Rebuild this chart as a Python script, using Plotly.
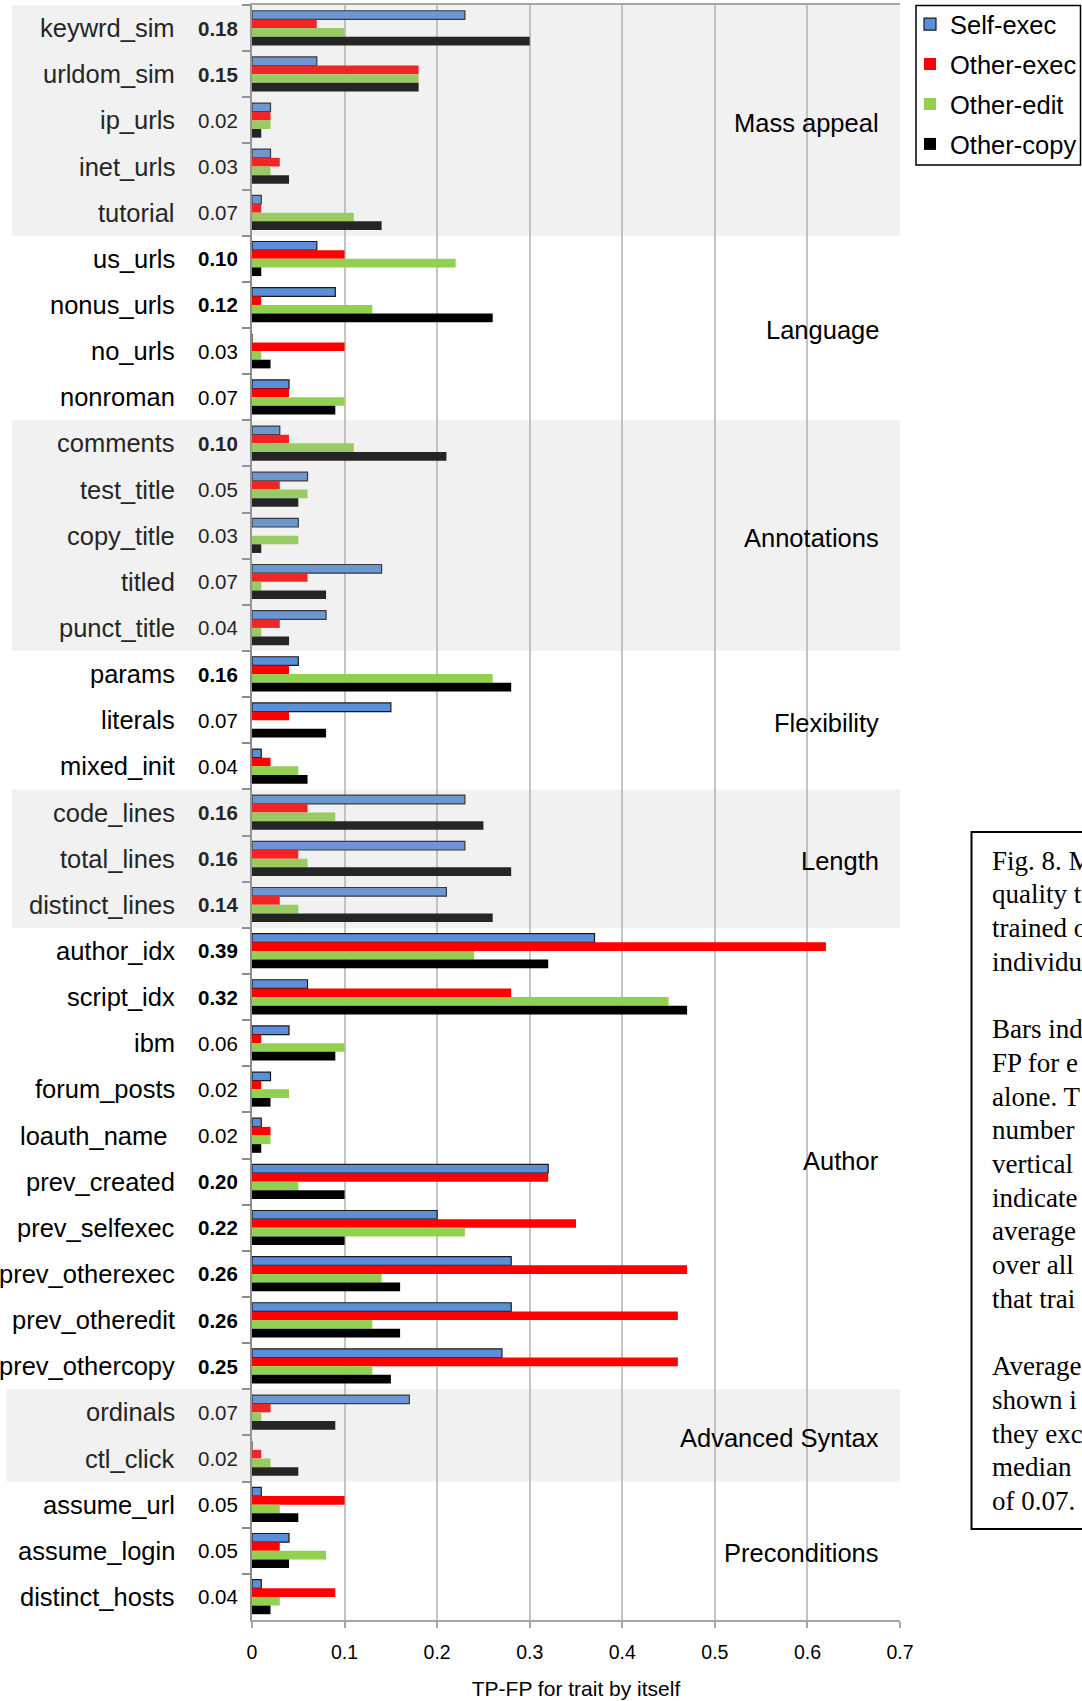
import plotly.graph_objects as go

# ---- data -------------------------------------------------------------
traits = [
    "keywrd_sim", "urldom_sim", "ip_urls", "inet_urls", "tutorial",
    "us_urls", "nonus_urls", "no_urls", "nonroman",
    "comments", "test_title", "copy_title", "titled", "punct_title",
    "params", "literals", "mixed_init",
    "code_lines", "total_lines", "distinct_lines",
    "author_idx", "script_idx", "ibm", "forum_posts", "loauth_name\u00a0",
    "prev_created", "prev_selfexec", "prev_otherexec", "prev_otheredit", "prev_othercopy",
    "ordinals", "ctl_click",
    "assume_url", "assume_login", "distinct_hosts",
]

# average TP-FP over all four classifiers for each trait
trait_avg = [
    0.18, 0.15, 0.02, 0.03, 0.07,
    0.10, 0.12, 0.03, 0.07,
    0.10, 0.05, 0.03, 0.07, 0.04,
    0.16, 0.07, 0.04,
    0.16, 0.16, 0.14,
    0.39, 0.32, 0.06, 0.02, 0.02,
    0.20, 0.22, 0.26, 0.26, 0.25,
    0.07, 0.02,
    0.05, 0.05, 0.04,
]
median_avg = 0.07

self_exec = [
    0.23, 0.07, 0.02, 0.02, 0.01,
    0.07, 0.09, 0.00, 0.04,
    0.03, 0.06, 0.05, 0.14, 0.08,
    0.05, 0.15, 0.01,
    0.23, 0.23, 0.21,
    0.37, 0.06, 0.04, 0.02, 0.01,
    0.32, 0.20, 0.28, 0.28, 0.27,
    0.17, 0.00,
    0.01, 0.04, 0.01,
]
other_exec = [
    0.07, 0.18, 0.02, 0.03, 0.01,
    0.10, 0.01, 0.10, 0.04,
    0.04, 0.03, 0.00, 0.06, 0.03,
    0.04, 0.04, 0.02,
    0.06, 0.05, 0.03,
    0.62, 0.28, 0.01, 0.01, 0.02,
    0.32, 0.35, 0.47, 0.46, 0.46,
    0.02, 0.01,
    0.10, 0.03, 0.09,
]
other_edit = [
    0.10, 0.18, 0.02, 0.02, 0.11,
    0.22, 0.13, 0.01, 0.10,
    0.11, 0.06, 0.05, 0.01, 0.01,
    0.26, 0.00, 0.05,
    0.09, 0.06, 0.05,
    0.24, 0.45, 0.10, 0.04, 0.02,
    0.05, 0.23, 0.14, 0.13, 0.13,
    0.01, 0.02,
    0.03, 0.08, 0.03,
]
other_copy = [
    0.30, 0.18, 0.01, 0.04, 0.14,
    0.01, 0.26, 0.02, 0.09,
    0.21, 0.05, 0.01, 0.08, 0.04,
    0.28, 0.08, 0.06,
    0.25, 0.28, 0.26,
    0.32, 0.47, 0.09, 0.02, 0.01,
    0.10, 0.10, 0.16, 0.16, 0.15,
    0.09, 0.05,
    0.05, 0.04, 0.02,
]

series_names = ["Self-exec", "Other-exec", "Other-edit", "Other-copy"]

group_names = ["Mass appeal", "Language", "Annotations", "Flexibility",
               "Length", "Author", "Advanced Syntax", "Preconditions"]
group_sizes = [5, 4, 5, 3, 3, 10, 2, 3]

x_ticks = [0, 0.1, 0.2, 0.3, 0.4, 0.5, 0.6, 0.7]

caption_lines = [
    "Fig. 8. M", "quality t", "trained o", "individu", "",
    "Bars ind", "FP for e", "alone. T", "number", "vertical",
    "indicate", "average", "over all", "that trai", "",
    "Average", "shown i", "they exc", "median", "of 0.07.",
]

# ---- geometry (pixels) ------------------------------------------------
W, H = 1082, 1701
PL, PR, PT, PB = 252, 900, 5, 1620


def fx(px):
    return (px - PL) / (PR - PL)


def fy(py):
    return (PB - py) / (PB - PT)


SANS = "Liberation Sans, Arial, sans-serif"
SERIF = "Liberation Serif, Times New Roman, serif"

colors = ["#5b8fd9", "#ff0000", "#92d050", "#000000"]
series = [self_exec, other_exec, other_edit, other_copy]

fig = go.Figure()
for i, (name, vals, col) in enumerate(zip(series_names, series, colors)):
    fig.add_trace(go.Bar(
        y=traits, x=vals, name=name, orientation="h",
        legendgroup=name,
        marker=dict(color=col,
                    line=dict(color="#1a1a1a", width=1.2 if i == 0 else 0)),
    ))

# ---- group bands, labels ---------------------------------------------
shapes = []
annotations = []
start = 0
shaded_rows = set()
for gi, (gname, gsize) in enumerate(zip(group_names, group_sizes)):
    first, last = start, start + gsize - 1
    shaded = gi % 2 == 0
    if shaded:
        shaded_rows.update(range(first, last + 1))
        left_px = 6.5 if gname == "Advanced Syntax" else 12
        shapes.append(dict(
            type="rect", layer="above", xref="paper", yref="y",
            x0=fx(left_px), x1=1, y0=first - 0.5, y1=last + 0.5,
            fillcolor="rgba(186,186,186,0.2)", line=dict(width=0),
        ))
    annotations.append(dict(
        text=gname, xref="paper", yref="y", x=fx(881),
        y=(first + last) / 2 + 0.05, xanchor="right", yanchor="middle",
        showarrow=False, font=dict(family=SANS, size=25.5, color="#000000"),
    ))
    start += gsize

for r, (t, avg) in enumerate(zip(traits, trait_avg)):
    txt_col = "#262626" if r in shaded_rows else "#000000"
    annotations.append(dict(
        text=t, xref="paper", yref="y", x=fx(177), y=r,
        xanchor="right", yanchor="middle", showarrow=False,
        font=dict(family=SANS, size=25.5, color=txt_col),
    ))
    label = f"{avg:.2f}"
    if avg > median_avg:
        label = f"<b>{label}</b>"
    annotations.append(dict(
        text=label, xref="paper", yref="y", x=fx(240), y=r,
        xanchor="right", yanchor="middle", showarrow=False,
        font=dict(family=SANS, size=20.5, color=txt_col),
    ))

# ---- caption box -----------------------------------------------------
shapes.append(dict(
    type="rect", xref="paper", yref="paper",
    x0=fx(971.5), x1=fx(1200), y0=fy(1529), y1=fy(832),
    line=dict(color="#000000", width=2), fillcolor="rgba(0,0,0,0)",
))
for i, line in enumerate(caption_lines):
    if not line:
        continue
    annotations.append(dict(
        text=line, xref="paper", yref="paper", x=fx(990),
        y=fy(860.6 + i * 33.7), xanchor="left", yanchor="middle",
        showarrow=False, align="left",
        font=dict(family=SERIF, size=27, color="#000000"),
    ))

# ---- legend frame ----------------------------------------------------
shapes.append(dict(
    type="rect", xref="paper", yref="paper",
    x0=fx(916), x1=fx(1080.5), y0=fy(165), y1=fy(5.5),
    line=dict(color="#000000", width=1.5), fillcolor="rgba(0,0,0,0)",
))

fig.update_layout(
    width=W, height=H,
    margin=dict(l=PL, r=W - PR, t=PT, b=H - PB, pad=0, autoexpand=False),
    paper_bgcolor="#ffffff", plot_bgcolor="#ffffff",
    font=dict(family=SANS, color="#000000"),
    barmode="group", bargap=0.25, bargroupgap=0,
    showlegend=True,
    legend=dict(
        x=fx(910), y=fy(1), xanchor="left", yanchor="top",
        bgcolor="rgba(0,0,0,0)", borderwidth=0,
        font=dict(family=SANS, size=25.5, color="#000000"),
        traceorder="grouped", tracegroupgap=3.8,
    ),
    shapes=shapes,
    annotations=annotations,
    xaxis=dict(
        range=[0, 0.7], tickvals=x_ticks,
        ticktext=[f"{v:g}" for v in x_ticks],
        showgrid=True, gridcolor="#c4c4c4", gridwidth=1.5,
        zeroline=False,
        showline=True, mirror=True, linecolor="#a6a6a6", linewidth=1.5,
        ticks="outside", ticklen=6, tickwidth=1.5, tickcolor="#a6a6a6",
        ticklabelstandoff=8,
        tickfont=dict(family=SANS, size=19.5, color="#000000"),
        title=dict(text="TP-FP for trait by itself", standoff=19,
                   font=dict(family=SANS, size=21, color="#000000")),
    ),
    yaxis=dict(
        type="category", categoryorder="array", categoryarray=traits,
        range=[len(traits) - 0.5, -0.5],
        tickson="boundaries", ticks="outside", ticklen=8, tickwidth=1.5,
        tickcolor="#8c8c8c", showticklabels=False,
        showline=True, linecolor="#8c8c8c", linewidth=2,
        showgrid=False, zeroline=False,
    ),
)

fig.write_html("out.html")
